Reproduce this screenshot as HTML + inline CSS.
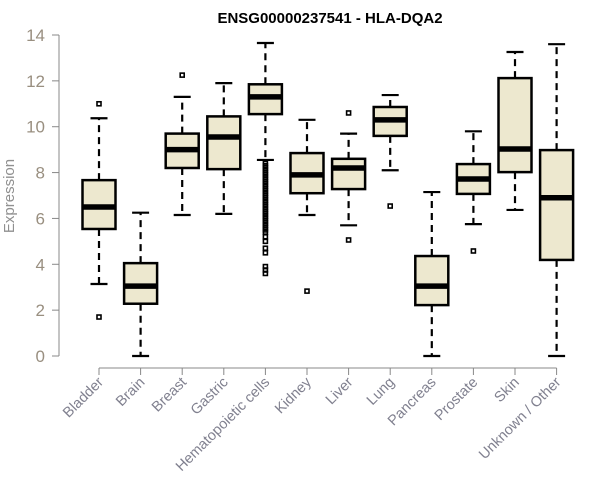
<!DOCTYPE html>
<html><head><meta charset="utf-8"><style>
body{margin:0;background:#fff}
svg{display:block;font-family:"Liberation Sans",Arial,sans-serif}
</style></head><body>
<svg id="c" width="600" height="500">
<text x="330" y="23" text-anchor="middle" font-weight="bold" font-size="15">ENSG00000237541 - HLA-DQA2</text>
<text transform="translate(14,196) rotate(-90)" text-anchor="middle" font-size="15" fill="#909090">Expression</text>
<g id="axes"></g><g id="boxes"></g>
</svg>
<script>
const categories=["Bladder","Brain","Breast","Gastric","Hematopoietic cells","Kidney","Liver","Lung","Pancreas","Prostate","Skin","Unknown / Other"];
const whiskerLow=[3.14,0,6.15,6.2,8.55,6.15,5.7,8.1,0,5.75,6.37,0];
const q1=[5.54,2.28,8.2,8.15,10.55,7.1,7.28,9.6,2.22,7.07,8.02,4.19];
const median=[6.5,3.05,9.0,9.55,11.3,7.9,8.2,10.3,3.05,7.72,9.03,6.9];
const q3=[7.67,4.05,9.7,10.45,11.85,8.85,8.6,10.86,4.36,8.37,12.12,8.98];
const whiskerHigh=[10.37,6.25,11.3,11.9,13.65,10.3,9.7,11.38,7.15,9.8,13.26,13.6];
const outliers=[[11.0,1.7],[],[12.25],[],[8.4,8.3,8.2,8.1,8.0,7.9,7.8,7.7,7.6,7.5,7.4,7.3,7.2,7.1,7.0,6.9,6.8,6.7,6.6,6.5,6.4,6.3,6.2,6.1,6.0,5.9,5.8,5.7,5.6,5.5,5.4,5.2,5.0,4.7,4.5,3.9,3.75,3.6],[2.83],[10.6,5.06],[6.54],[],[4.58],[],[]];
const yTicks=[0,2,4,6,8,10,12,14];
const NS="http://www.w3.org/2000/svg";
const y=v=>356-v*(321/14);
const x=i=>99+i*41.6;
function mk(tag,attrs,parent){const e=document.createElementNS(NS,tag);for(const k in attrs)e.setAttribute(k,attrs[k]);parent.appendChild(e);return e;}
const ax=document.getElementById('axes'),bx=document.getElementById('boxes');
let e=mk('line',{x1:59,x2:59,y1:y(0),y2:y(14),stroke:'#888','stroke-width':1},ax);


yTicks.forEach(t=>{
 let l=mk('line',{x1:52,x2:59,y1:y(t),y2:y(t),stroke:'#888'},ax);
 
 
 let tx=mk('text',{x:45,y:y(t)+6,'text-anchor':'end','font-size':17,fill:'#998f80'},ax);tx.textContent=t;
 
 
});
e=mk('line',{x1:x(0),x2:x(11),y1:368,y2:368,stroke:'#888'},ax);


categories.forEach((c,i)=>{
 let l=mk('line',{x1:x(i),x2:x(i),y1:368,y2:375,stroke:'#888'},ax);
 
 
 let tx=mk('text',{transform:`translate(${x(i)+5},${383}) rotate(-45)`,'text-anchor':'end','font-size':14.5,fill:'#80808f'},ax);tx.textContent=c;
 
 
 const g=mk('g',{},bx);
 
 
 const cx=x(i),hw=16.5,cap=8.5;
 mk('line',{x1:cx,x2:cx,y1:y(q3[i]),y2:y(whiskerHigh[i]),stroke:'#000','stroke-width':2.2,'stroke-dasharray':'7,5'},g);
 mk('line',{x1:cx,x2:cx,y1:y(q1[i]),y2:y(whiskerLow[i]),stroke:'#000','stroke-width':2.2,'stroke-dasharray':'7,5'},g);
 mk('line',{x1:cx-cap,x2:cx+cap,y1:y(whiskerHigh[i]),y2:y(whiskerHigh[i]),stroke:'#000','stroke-width':2.2},g);
 mk('line',{x1:cx-cap,x2:cx+cap,y1:y(whiskerLow[i]),y2:y(whiskerLow[i]),stroke:'#000','stroke-width':2.2},g);
 mk('rect',{x:cx-hw,y:y(q3[i]),width:2*hw,height:y(q1[i])-y(q3[i]),fill:'#ede8cf',stroke:'#000','stroke-width':2.5},g);
 mk('line',{x1:cx-hw,x2:cx+hw,y1:y(median[i]),y2:y(median[i]),stroke:'#000','stroke-width':5.5},g);
 outliers[i].forEach(o=>{
  let r=mk('rect',{x:cx-2,y:y(o)-2,width:4,height:4,fill:'none',stroke:'#000','stroke-width':1.6},g);
  
  
 });
});
</script>
</body></html>
